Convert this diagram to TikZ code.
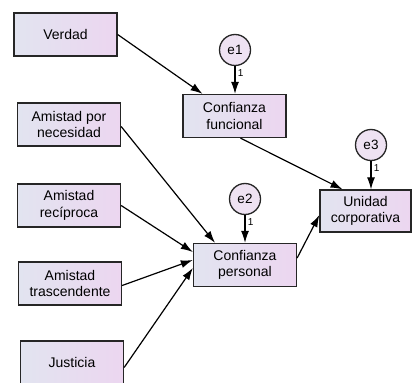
\documentclass[tikz,border=0pt]{standalone}
\usepackage{fontspec}
\setmainfont{Liberation Sans}
\usetikzlibrary{arrows.meta}

\definecolor{boxleft}{RGB}{226,228,240}
\definecolor{boxright}{RGB}{236,214,240}
\definecolor{errfill}{RGB}{238,226,242}

\begin{document}
\begin{tikzpicture}[x=1pt,y=-1pt,
    var/.style={draw=black!85,line width=1.3pt,left color=boxleft,right color=boxright,
      minimum width=103pt,minimum height=43pt,inner sep=0pt,align=center,
      font=\fontsize{14}{16.5}\selectfont},
    err/.style={draw=black!85,line width=1.3pt,circle,fill=errfill,minimum size=31pt,
      inner sep=0pt,font=\fontsize{13.5}{15}\selectfont},
    path/.style={line width=1.2pt,-{Latex[length=12pt,width=8pt]}},
    one/.style={right=-1pt,pos=0.25,font=\fontsize{10}{11}\selectfont}]
    \fill[white] (0,0) rectangle (414,382); \useasboundingbox (0,0) rectangle (414,382);
    % exogenous
    \node[var] (verdad) at (65.5,34.5) {Verdad};
    \node[var] (necesidad) at (69,124.5) {Amistad por\\necesidad};
    \node[var] (reciproca) at (69,205.5) {Amistad\\rec\'iproca};
    \node[var] (trascendente) at (70,283.5) {Amistad\\trascendente};
    \node[var] (justicia) at (72,362.5) {Justicia};
    % endogenous
    \node[var] (funcional) at (234.5,116) {Confianza\\funcional};
    \node[var] (personal) at (245,265) {Confianza\\personal};
    \node[var,minimum width=91pt,minimum height=42pt] (unidad) at (365.5,211) {Unidad\\corporativa};
    % errors
    \node[err] (e1) at (235,50) {e1};
    \node[err] (e2) at (245,199) {e2};
    \node[err] (e3) at (371,145) {e3};
    \foreach\e/\v in{e1/funcional,e2/personal,e3/unidad}{
      \draw[path] (\e.south) -- (\e.south |- \v.north) node[one]{1};};
    \draw[path] (verdad.east) -- ([xshift=-32pt]funcional.north);
    \draw[path] ([xshift=6pt]funcional.south) -- ([xshift=-23pt]unidad.north);
    \draw[path] ([yshift=-2pt]necesidad.east) -- ([xshift=-30pt]personal.north);
    \draw[path] (reciproca.east) -- ([yshift=13pt]personal.west);
    \draw[path] ([yshift=-2pt]trascendente.east) -- ([yshift=5pt]personal.west);
    \draw[path] ([yshift=-5pt]justicia.east) -- ([yshift=-3pt]personal.west);
    \draw[path] ([yshift=7pt]personal.east) -- ([yshift=-4pt]unidad.west);
  \end{tikzpicture}
\end{document}
